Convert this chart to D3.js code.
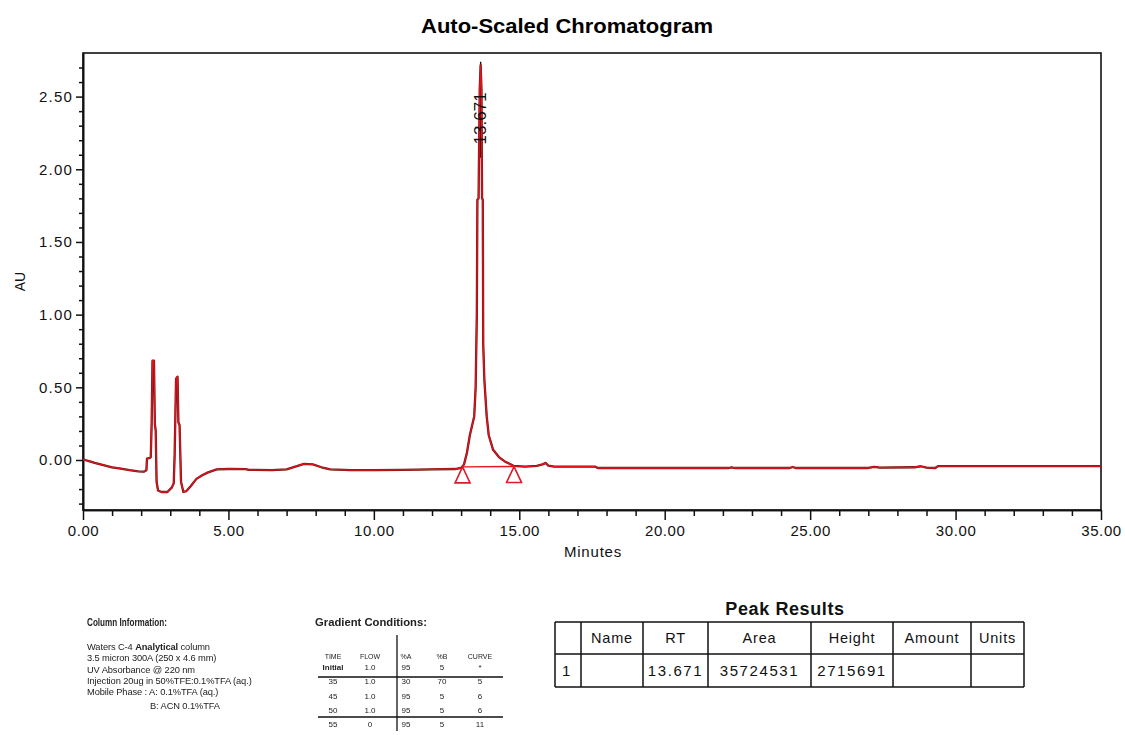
<!DOCTYPE html>
<html>
<head>
<meta charset="utf-8">
<script src="https://cdn.jsdelivr.net/npm/d3@7"></script>
<style>
  html, body { margin: 0; padding: 0; background: #fff; }
  svg { display: block; font-family: "Liberation Sans", Arial, sans-serif; }
</style>
</head>
<body>
<svg id="chart" width="1125" height="735"></svg>
<script>
// ---- Detector trace (minutes, AU) ----
const traceMinutes = [
  0.00, 0.15, 0.40, 0.70, 1.00, 1.30, 1.60, 1.90, 2.10, 2.18, 2.20, 2.30, 2.33, 2.36, 2.39, 2.44,
  2.47, 2.50, 2.53, 2.58, 2.70, 2.90, 3.05, 3.12, 3.15, 3.20, 3.25, 3.28, 3.32, 3.37, 3.45, 3.55,
  3.70, 3.90, 4.10, 4.30, 4.60, 5.00, 5.60, 5.70, 6.50, 7.00, 7.30, 7.60, 7.90, 8.20, 8.50, 9.20,
  10.00, 11.00, 12.00, 12.80, 13.00, 13.10, 13.20, 13.30, 13.45, 13.50, 13.54, 13.56, 13.60, 13.64,
  13.671, 13.70, 13.72, 13.745, 13.76, 13.80, 13.88, 13.95, 14.10, 14.30, 14.50, 14.80, 15.20, 15.60,
  15.80, 15.90, 16.00, 16.20, 17.60, 17.70, 22.20, 22.30, 22.40, 24.30, 24.40, 24.50, 27.00, 27.20,
  27.40, 28.60, 28.80, 29.00, 29.30, 29.40, 35.00
];
const traceAU = [
  0.005, -0.005, -0.020, -0.035, -0.050, -0.060, -0.070, -0.078, -0.080, -0.070, 0.010, 0.015, 0.020, 0.250, 0.683, 0.683,
  0.250, 0.200, -0.150, -0.210, -0.220, -0.220, -0.190, -0.160, 0.030, 0.560, 0.573, 0.260, 0.240, -0.150, -0.220, -0.215,
  -0.180, -0.130, -0.105, -0.085, -0.065, -0.062, -0.063, -0.068, -0.070, -0.065, -0.045, -0.027, -0.030, -0.050, -0.065, -0.070,
  -0.070, -0.068, -0.065, -0.062, -0.055, -0.030, 0.050, 0.170, 0.300, 0.500, 1.000, 1.790, 1.800, 2.550,
  2.716, 2.550, 1.800, 1.790, 0.800, 0.550, 0.300, 0.170, 0.070, 0.020, -0.010, -0.040, -0.045, -0.040,
  -0.030, -0.020, -0.038, -0.045, -0.045, -0.055, -0.055, -0.050, -0.055, -0.055, -0.048, -0.055, -0.055, -0.048,
  -0.052, -0.050, -0.043, -0.052, -0.055, -0.042, -0.042
];

// ---- Integration of the main peak ----
const peakRT = 13.671;
const peakLabel = "13.671";
const peakBounds = [13.05, 14.82];        // start / end of integration (min)
const peakBaselineAU = [-0.047, -0.045];  // baseline level at start / end (AU)

// ---- Axes ----
const xDomain = [0, 35];
const yDomain = [-0.344, 2.80];
const xMajorTicks = [0, 5, 10, 15, 20, 25, 30, 35];
const yMajorTicks = [0, 0.5, 1.0, 1.5, 2.0, 2.5];

// ---- Method notes ----
const columnInfoTitle = "Column Information:";
const columnInfoLines = [
  ["Waters C-4 ", "Analytical", " column"],
  ["3.5 micron 300A (250 x 4.6 mm)"],
  ["UV Absorbance @ 220 nm"],
  ["Injection 20ug in 50%TFE:0.1%TFA (aq.)"],
  ["Mobile Phase : A: 0.1%TFA (aq.)"],
  ["B: ACN 0.1%TFA"]
];
const gradientTitle = "Gradient Conditions:";
const gradientHeader = ["TIME", "FLOW", "%A", "%B", "CURVE"];
const gradientRows = [
  ["Initial", "1.0", "95", "5", "*"],
  ["35", "1.0", "30", "70", "5"],
  ["45", "1.0", "95", "5", "6"],
  ["50", "1.0", "95", "5", "6"],
  ["55", "0", "95", "5", "11"]
];

// ---- Peak results table ----
const resultsTitle = "Peak Results";
const resultsHeader = ["", "Name", "RT", "Area", "Height", "Amount", "Units"];
const resultsRows = [
  ["1", "", "13.671", "35724531", "2715691", "", ""]
];

// ================= drawing =================
const svg = d3.select("#chart");
const plot = { left: 83, right: 1101, top: 53, bottom: 510 };

const x = d3.scaleLinear().domain(xDomain).range([plot.left, plot.right]);
const y = d3.scaleLinear().domain(yDomain).range([plot.bottom, plot.top]);

const defs = svg.append("defs");
defs.append("filter").attr("id", "soft")
  .append("feGaussianBlur").attr("stdDeviation", 0.45);

// title
svg.append("text")
  .attr("x", 567).attr("y", 33)
  .attr("text-anchor", "middle")
  .attr("font-size", 20).attr("font-weight", "bold")
  .attr("textLength", 292).attr("lengthAdjust", "spacingAndGlyphs")
  .text("Auto-Scaled Chromatogram");

// frame
svg.append("rect")
  .attr("x", plot.left).attr("y", plot.top)
  .attr("width", plot.right - plot.left).attr("height", plot.bottom - plot.top)
  .attr("fill", "none").attr("stroke", "#111").attr("stroke-width", 1.6);

// x axis: minor (1 min) and major (5 min) ticks
const xMinor = d3.range(xDomain[0], xDomain[1] + 0.001, 1).filter(v => v % 5 !== 0);
const xAxisG = svg.append("g").attr("transform", `translate(0,${plot.bottom})`);
xAxisG.call(d3.axisBottom(x).tickValues(xMinor).tickSize(6).tickFormat("").tickSizeOuter(0));
xAxisG.append("g").call(d3.axisBottom(x).tickValues(xMajorTicks).tickSize(10).tickPadding(5)
  .tickFormat(d3.format(".2f")).tickSizeOuter(0));
xAxisG.selectAll("path.domain").attr("stroke", "#111").attr("stroke-width", 1.6);
xAxisG.selectAll("line").attr("stroke", "#111").attr("stroke-width", 1.5);
xAxisG.selectAll("text").attr("font-size", 15).attr("fill", "#111")
  .attr("font-family", "'Liberation Sans', Arial, sans-serif").attr("letter-spacing", 0.6);

svg.append("text")
  .attr("x", 593).attr("y", 557)
  .attr("text-anchor", "middle").attr("font-size", 15).attr("fill", "#111")
  .attr("letter-spacing", 0.8)
  .text("Minutes");

// y axis: minor (0.1) and major (0.5) ticks
const yMinor = d3.range(-0.3, 2.71, 0.1).map(v => Math.round(v * 10) / 10)
  .filter(v => Math.abs((v * 10) % 5) > 0.01);
const yAxisG = svg.append("g").attr("transform", `translate(${plot.left},0)`);
yAxisG.call(d3.axisLeft(y).tickValues(yMinor).tickSize(4).tickFormat("").tickSizeOuter(0));
yAxisG.append("g").call(d3.axisLeft(y).tickValues(yMajorTicks).tickSize(7).tickPadding(3)
  .tickFormat(d3.format(".2f")).tickSizeOuter(0));
yAxisG.selectAll("path.domain").attr("stroke", "#111").attr("stroke-width", 1.6);
yAxisG.selectAll("line").attr("stroke", "#111").attr("stroke-width", 1.5);
yAxisG.selectAll("text").attr("font-size", 15).attr("fill", "#111")
  .attr("font-family", "'Liberation Sans', Arial, sans-serif").attr("letter-spacing", 1.2);

svg.append("text")
  .attr("transform", `translate(25,${(plot.top + plot.bottom) / 2}) rotate(-90)`)
  .attr("text-anchor", "middle").attr("font-size", 14).attr("fill", "#111")
  .text("AU");

// retention time marker (drawn under the trace)
svg.append("line")
  .attr("x1", x(peakRT)).attr("x2", x(peakRT))
  .attr("y1", y(2.74)).attr("y2", y(2.08))
  .attr("stroke", "#111").attr("stroke-width", 1.4);

// chromatogram trace
const trace = traceMinutes.map((t, i) => [t, traceAU[i]]);
const line = d3.line().x(d => x(d[0])).y(d => y(d[1]));
svg.append("path").datum(trace)
  .attr("d", line).attr("fill", "none")
  .attr("stroke", "#6a1418").attr("stroke-width", 2.3).attr("stroke-linejoin", "round");
svg.append("path").datum(trace)
  .attr("d", line).attr("fill", "none")
  .attr("stroke", "#e3141c").attr("stroke-width", 1.3).attr("stroke-linejoin", "round");

// integration baseline and start/end markers
svg.append("line")
  .attr("x1", x(peakBounds[0])).attr("y1", y(peakBaselineAU[0]))
  .attr("x2", x(peakBounds[1])).attr("y2", y(peakBaselineAU[1]))
  .attr("stroke", "#e3141c").attr("stroke-width", 1.4);
peakBounds.forEach((t, i) => {
  const cx = x(t), cy = y(peakBaselineAU[i]);
  svg.append("path")
    .attr("d", `M${cx},${cy} L${cx - 7.5},${cy + 16} L${cx + 7.5},${cy + 16} Z`)
    .attr("fill", "#fff").attr("stroke", "#d81e26").attr("stroke-width", 1.6);
});

// retention time label, centred on the marker line
svg.append("text")
  .attr("transform", `translate(${x(peakRT)},${y(2.35)}) rotate(-90)`)
  .attr("text-anchor", "middle").attr("dominant-baseline", "central")
  .attr("font-size", 17).attr("fill", "#111")
  .text(peakLabel);

// ---- column information block ----
const notes = svg.append("g").attr("filter", "url(#soft)").attr("fill", "#222");
notes.append("text")
  .attr("x", 87).attr("y", 626)
  .attr("font-size", 10).attr("font-weight", "bold")
  .attr("textLength", 80).attr("lengthAdjust", "spacingAndGlyphs")
  .text(columnInfoTitle);
const lineY = [650, 661, 673, 684, 695, 709];
columnInfoLines.forEach((parts, i) => {
  const t = notes.append("text")
    .attr("x", i === columnInfoLines.length - 1 ? 150 : 87).attr("y", lineY[i])
    .attr("font-size", 9.3).attr("letter-spacing", -0.1);
  parts.forEach((p, j) => {
    t.append("tspan").attr("font-weight", j === 1 ? "bold" : "normal").text(p);
  });
});

// ---- gradient conditions block ----
notes.append("text")
  .attr("x", 315).attr("y", 626)
  .attr("font-size", 11).attr("font-weight", "bold")
  .attr("textLength", 112).attr("lengthAdjust", "spacingAndGlyphs")
  .text(gradientTitle);
const gradCols = [333, 370, 406, 442, 480];
const gradRowY = [659, 670, 684, 699, 713, 727];
gradientHeader.forEach((h, c) => {
  notes.append("text").attr("x", gradCols[c]).attr("y", gradRowY[0])
    .attr("text-anchor", "middle").attr("font-size", 7).text(h);
});
gradientRows.forEach((row, r) => {
  row.forEach((v, c) => {
    notes.append("text").attr("x", gradCols[c]).attr("y", gradRowY[r + 1])
      .attr("text-anchor", "middle").attr("font-size", 8)
      .attr("font-weight", r === 0 && c === 0 ? "bold" : "normal").text(v);
  });
});
notes.append("line").attr("x1", 397).attr("x2", 397).attr("y1", 635).attr("y2", 731)
  .attr("stroke", "#111").attr("stroke-width", 1.3);
[677, 717].forEach(yy => {
  notes.append("line").attr("x1", 318).attr("x2", 503).attr("y1", yy).attr("y2", yy)
    .attr("stroke", "#111").attr("stroke-width", 1.5);
});

// ---- peak results table ----
svg.append("text")
  .attr("x", 785).attr("y", 615)
  .attr("text-anchor", "middle").attr("font-size", 18).attr("font-weight", "bold")
  .attr("letter-spacing", 0.6).attr("fill", "#111")
  .text(resultsTitle);

const colEdges = [555, 581, 643, 708, 811, 893, 971, 1024];
const rowEdges = [622, 654, 687];
const tbl = svg.append("g").attr("stroke", "#111").attr("stroke-width", 1.5);
colEdges.forEach(cx => {
  tbl.append("line").attr("x1", cx).attr("x2", cx).attr("y1", rowEdges[0]).attr("y2", rowEdges[2]);
});
rowEdges.forEach(ry => {
  tbl.append("line").attr("x1", colEdges[0]).attr("x2", colEdges[colEdges.length - 1])
    .attr("y1", ry).attr("y2", ry);
});
resultsHeader.forEach((h, c) => {
  svg.append("text")
    .attr("x", (colEdges[c] + colEdges[c + 1]) / 2).attr("y", 643)
    .attr("text-anchor", "middle").attr("font-size", 14.5).attr("letter-spacing", 0.8)
    .attr("fill", "#111").text(h);
});
resultsRows.forEach((row, r) => {
  row.forEach((v, c) => {
    const first = c === 0;
    svg.append("text")
      .attr("x", first ? colEdges[0] + 7 : (colEdges[c] + colEdges[c + 1]) / 2)
      .attr("y", 676 + r * 33)
      .attr("text-anchor", first ? "start" : "middle")
      .attr("font-size", 15).attr("letter-spacing", first ? 0 : 1.6)
      .attr("fill", "#111").text(v);
  });
});
</script>
</body>
</html>
